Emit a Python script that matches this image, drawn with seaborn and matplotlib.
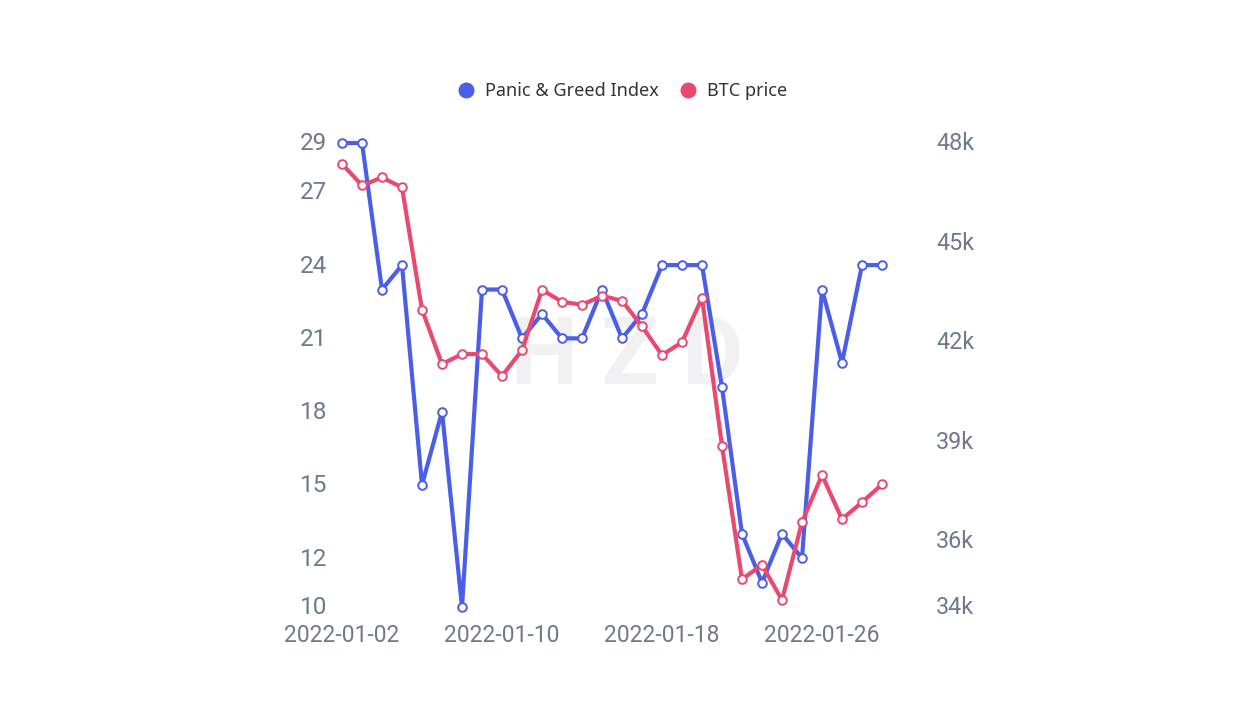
import matplotlib
matplotlib.use("Agg")
import matplotlib.pyplot as plt
from matplotlib.lines import Line2D
from matplotlib.transforms import ScaledTranslation
import pandas as pd
import seaborn as sns

dates = pd.date_range("2022-01-02", periods=28).tolist()
panic = [29, 29, 23, 24, 15, 18, 10, 23, 23, 21, 22, 21, 21, 23, 21, 22, 24, 24, 24, 19, 13, 11, 13, 12, 23, 20, 24, 24]
btc = [47.37, 46.72, 46.96, 46.66, 42.97, 41.33, 41.63, 41.63, 40.97, 41.75, 43.57, 43.21, 43.12, 43.39, 43.24,
       42.47, 41.60, 41.99, 43.33, 38.86, 34.84, 35.27, 34.21, 36.56, 37.98, 36.65, 37.16, 37.70]
left_ticks = [10, 12, 15, 18, 21, 24, 27, 29]
right_ticks = [34, 36, 39, 42, 45, 48]
date_ticks = ["2022-01-02", "2022-01-10", "2022-01-18", "2022-01-26"]
names = ["Panic & Greed Index", "BTC price"]

BLUE, RED, GREY = "#4a5ee8", "#e9496e", "#6f7890"
W, H = 1254, 704
sns.set_theme(style="white")
plt.rcParams["font.family"] = ["Roboto", "DejaVu Sans"]

df = pd.DataFrame({"date": dates, "panic": panic, "btc": btc})
fig = plt.figure(figsize=(W / 100, H / 100), dpi=100, facecolor="white")
ax = fig.add_axes([342 / W, 1 - 607 / H, (882 - 342) / W, (607 - 143) / H])
ax2 = ax.twinx()
mk = dict(marker="o", markersize=6.2, markerfacecolor="white", markeredgewidth=1.4, linewidth=3, clip_on=False)
sns.lineplot(data=df, x="date", y="panic", ax=ax, color=BLUE, markeredgecolor=BLUE, **mk)
sns.lineplot(data=df, x="date", y="btc", ax=ax2, color=RED, markeredgecolor=RED, **mk)
ax.set_ylim(10, 29)
ax2.set_ylim(34, 48)
ax.set_xlim(dates[0], dates[-1])
ax.set_xlabel("")
ax.set_ylabel("")
ax2.set_ylabel("")
ax.set_yticks(left_ticks, [str(v) for v in left_ticks])
ax2.set_yticks(right_ticks, [f"{v}k" for v in right_ticks])
ax.set_xticks(pd.to_datetime(date_ticks), date_ticks)
ax.tick_params(axis="y", length=0, pad=10.5, labelsize=17.5, labelcolor=GREY)
ax2.tick_params(axis="y", length=0, pad=39, labelsize=16.8, labelcolor=GREY)
ax.tick_params(axis="x", length=0, pad=12, labelsize=16.5, labelcolor=GREY)
shift = ScaledTranslation(0, 1.5 / 100, fig.dpi_scale_trans)
for lab in ax.get_yticklabels():
    lab.set_transform(lab.get_transform() + shift)
for lab in ax2.get_yticklabels():
    lab.set_transform(lab.get_transform() + shift)
for a in (ax, ax2):
    a.grid(False)
    a.patch.set_visible(False)
    for s in a.spines.values():
        s.set_visible(False)

fig.text(627 / W, 1 - 358 / H, "H Z D", fontsize=68, fontweight="bold", color="#f1f1f4", ha="center", va="center",
         zorder=-1)

handles = [Line2D([], [], ls="", marker="o", ms=10.5, color=c) for c in (BLUE, RED)]
fig.legend(handles, names, loc="center left", bbox_to_anchor=(448 / W, 1 - 91.5 / H), ncol=2, frameon=False,
           prop={"family": "Noto Sans", "size": 13}, labelcolor="#333333", handletextpad=0.06, handlelength=2,
           columnspacing=0.6, borderpad=0, borderaxespad=0)
fig.savefig("out.png", dpi=100, facecolor="white")
